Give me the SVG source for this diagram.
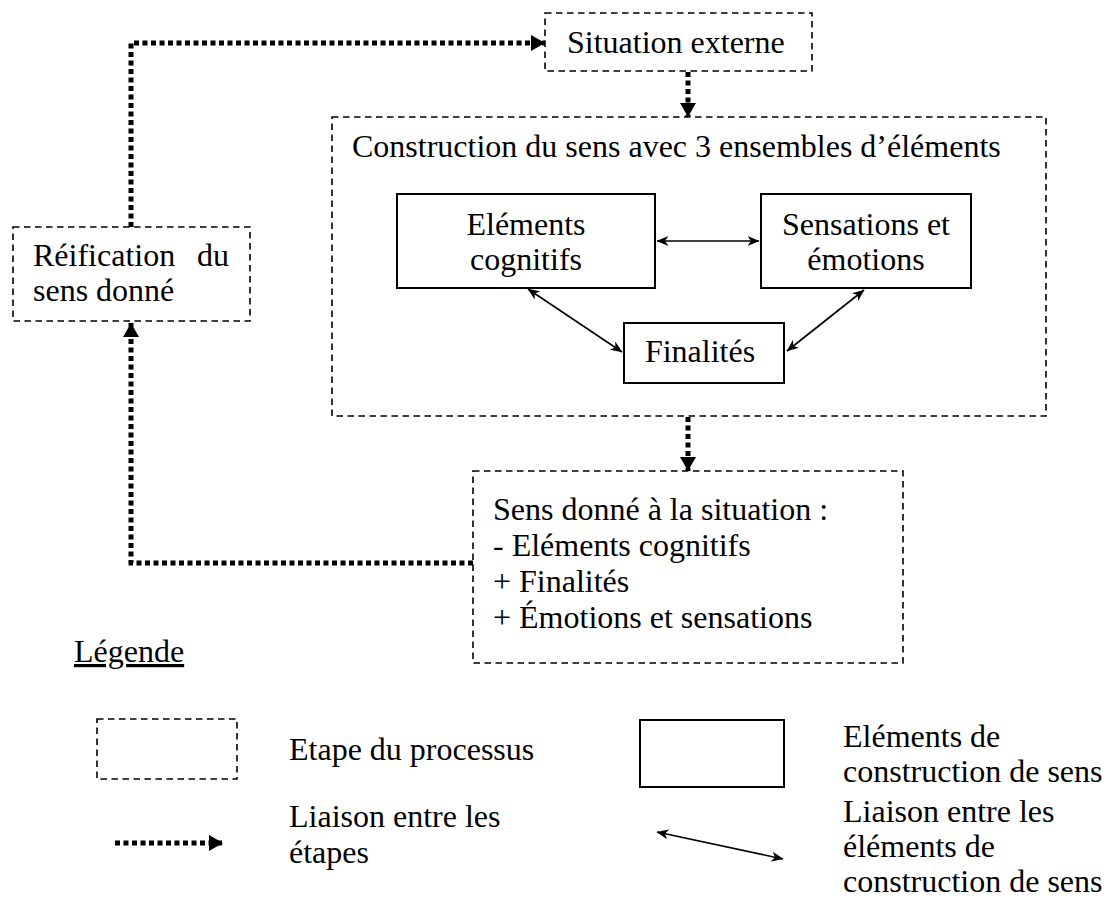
<svg xmlns="http://www.w3.org/2000/svg" width="1108" height="907" viewBox="0 0 1108 907">
<style>
text{font-family:"Liberation Serif","Times New Roman",Tinos,serif;font-size:32px;fill:#000}
.step{fill:none;stroke:#000;stroke-width:1.6;stroke-dasharray:6.5,4.5}
.elem{fill:none;stroke:#000;stroke-width:2}
.link{fill:none;stroke:#000;stroke-width:5;stroke-dasharray:5,3.5}
.rel{fill:none;stroke:#000;stroke-width:1.6}
</style>
<defs>
<marker id="tri" viewBox="0 0 14 16" refX="14" refY="8" markerWidth="14" markerHeight="16" orient="auto" markerUnits="userSpaceOnUse">
<path d="M0,0 L14,8 L0,16 z" fill="#000"/>
</marker>
<marker id="barb" viewBox="0 0 12 10" refX="11.5" refY="5" markerWidth="12" markerHeight="10" orient="auto-start-reverse" markerUnits="userSpaceOnUse">
<path d="M0,0 L12,5 L0,10 L3.5,5 z" fill="#000"/>
</marker>
</defs>
<g id="connectors">
<path class="link" d="M131,227 V43 H545" marker-end="url(#tri)"/>
<path class="link" d="M688,72 V117" marker-end="url(#tri)"/>
<path class="link" d="M688,417 V471" marker-end="url(#tri)"/>
<path class="link" d="M473,563 H131 V323" marker-end="url(#tri)"/>
<path class="rel" d="M657,241 H759" marker-start="url(#barb)" marker-end="url(#barb)"/>
<path class="rel" d="M528,289 L622,352" marker-start="url(#barb)" marker-end="url(#barb)"/>
<path class="rel" d="M864,290 L787,351" marker-start="url(#barb)" marker-end="url(#barb)"/>
</g>
<g id="situation">
<rect class="step" x="545" y="13" width="267" height="58"/>
<text x="567" y="53">Situation externe</text>
</g>
<g id="reification">
<rect class="step" x="13" y="227" width="237" height="94"/>
<text x="33" y="266">Réification</text>
<text x="229" y="266" text-anchor="end">du</text>
<text x="33" y="301">sens donné</text>
</g>
<g id="construction">
<rect class="step" x="332" y="117" width="714" height="299"/>
<text x="352" y="157">Construction du sens avec 3 ensembles d’éléments</text>
</g>
<g id="elements">
<rect class="elem" x="397" y="194" width="258" height="94"/>
<text x="526" y="235" text-anchor="middle">Eléments</text>
<text x="526" y="270" text-anchor="middle">cognitifs</text>
</g>
<g id="sensations">
<rect class="elem" x="761" y="194" width="210" height="94"/>
<text x="866" y="235" text-anchor="middle">Sensations et</text>
<text x="866" y="270" text-anchor="middle">émotions</text>
</g>
<g id="finalites">
<rect class="elem" x="624" y="323" width="160" height="60"/>
<text x="700" y="362" text-anchor="middle">Finalités</text>
</g>
<g id="sens-donne">
<rect class="step" x="473" y="471" width="430" height="192"/>
<text x="493" y="520">Sens donné à la situation :</text>
<text x="493" y="556">- Eléments cognitifs</text>
<text x="493" y="592">+ Finalités</text>
<text x="493" y="628">+ Émotions et sensations</text>
</g>
<g id="legend">
<text x="74" y="662" text-decoration="underline">Légende</text>
<rect class="step" x="97" y="719" width="140" height="60"/>
<text x="289" y="760">Etape du processus</text>
<path class="link" d="M115,843 H223" marker-end="url(#tri)"/>
<text x="289" y="827">Liaison entre les</text>
<text x="289" y="863">étapes</text>
<rect class="elem" x="640" y="720" width="144" height="67"/>
<text x="843" y="747">Eléments de</text>
<text x="843" y="782">construction de sens</text>
<path class="rel" d="M657,832 L783,859" marker-start="url(#barb)" marker-end="url(#barb)"/>
<text x="843" y="822">Liaison entre les</text>
<text x="843" y="857">éléments de</text>
<text x="843" y="892">construction de sens</text>
</g>
</svg>
